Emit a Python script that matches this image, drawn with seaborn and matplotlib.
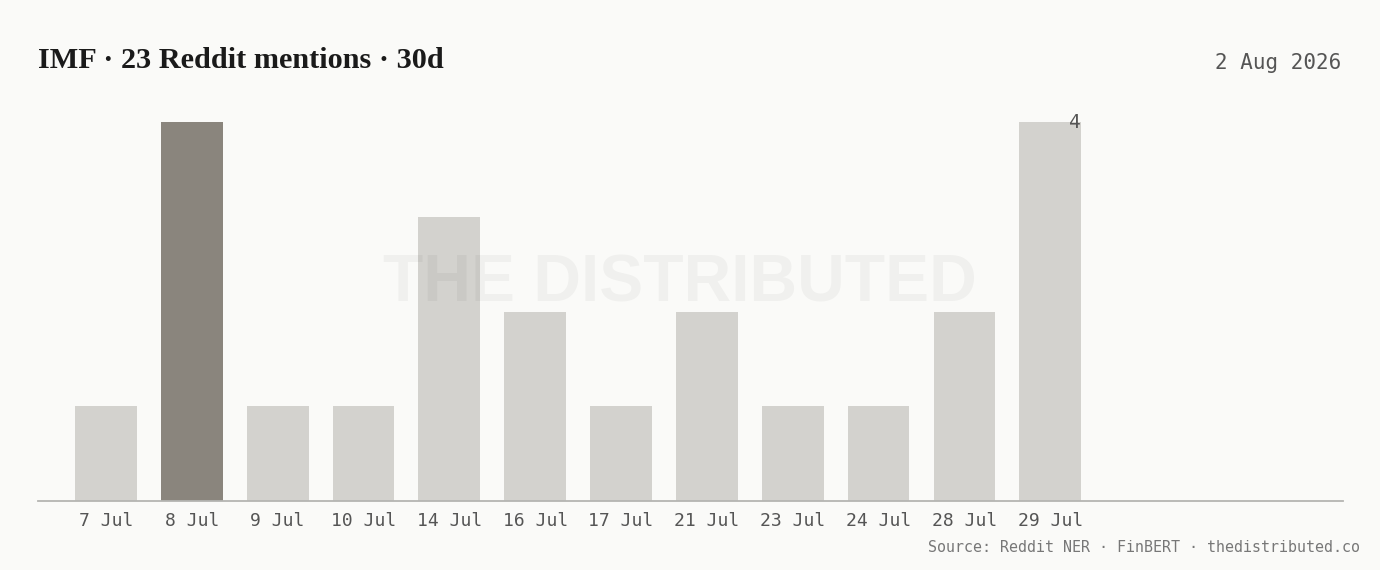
import matplotlib
matplotlib.use("Agg")
import matplotlib.pyplot as plt
import seaborn as sns
import pandas as pd

# Data
dates = ["7 Jul", "8 Jul", "9 Jul", "10 Jul", "14 Jul", "16 Jul", "17 Jul",
         "21 Jul", "23 Jul", "24 Jul", "28 Jul", "29 Jul"]
mentions = [1, 4, 1, 1, 3, 2, 1, 2, 1, 1, 2, 4]
highlight = "8 Jul"

title = "IMF · 23 Reddit mentions · 30d"
date_label = "2 Aug 2026"
source = "Source: Reddit NER · FinBERT · thedistributed.co"

BG = "#FAFAF8"
BAR = "#D3D2CE"
BAR_HI = "#8A857D"
MONO = ["DejaVu Sans Mono"]

sns.set_theme(style="white")
plt.rcParams["font.family"] = ["DejaVu Sans"]

df = pd.DataFrame({"date": dates, "mentions": mentions})
palette = {d: (BAR_HI if d == highlight else BAR) for d in dates}

fig = plt.figure(figsize=(13.8, 5.7), dpi=100, facecolor=BG)
W, H = 1380, 570
ax = fig.add_axes([38 / W, 69 / H, (1343 - 38) / W, (501 - 122) / H])
ax.set_facecolor(BG)

sns.barplot(data=df, x="date", y="mentions", hue="date", palette=palette,
            width=0.72, legend=False, ax=ax, saturation=1, linewidth=0)

ax.set_xlim(-0.792, 14.41)
ax.set_ylim(0, 4)
ax.set_xlabel("")
ax.set_ylabel("")
ax.set_yticks([])
for s in ["top", "right", "left"]:
    ax.spines[s].set_visible(False)
ax.spines["bottom"].set_color("#B5B5B2")
ax.spines["bottom"].set_linewidth(1.3)
ax.tick_params(axis="x", length=0, pad=8, labelsize=13, labelcolor="#555555")
for lbl in ax.get_xticklabels():
    lbl.set_family(MONO)

# value label on the last bar
last = ax.patches[len(dates) - 1]
ax.text(last.get_x() + last.get_width(), mentions[-1] - 0.01, str(mentions[-1]),
        ha="right", va="center", fontsize=14, color="#555555", family=MONO)

# watermark
ax.text(0.492, 0.57, "THE DISTRIBUTED", transform=ax.transAxes, ha="center",
        va="center", fontsize=47.5, color="black", alpha=0.04,
        fontweight="bold", family=["Liberation Sans"], zorder=5)

fig.text(38 / W, 1 - 60 / H, title, ha="left", va="center", fontsize=21.8,
         fontweight="bold", color="#1A1A1A", family=["Liberation Serif"])
fig.text(1341 / W, 1 - 63 / H, date_label, ha="right", va="center",
         fontsize=15, color="#555555", family=MONO)
fig.text(1360 / W, 1 - 547 / H, source, ha="right", va="center",
         fontsize=10.8, color="#777777", family=MONO)

fig.savefig("out.png", dpi=100, facecolor=BG)
